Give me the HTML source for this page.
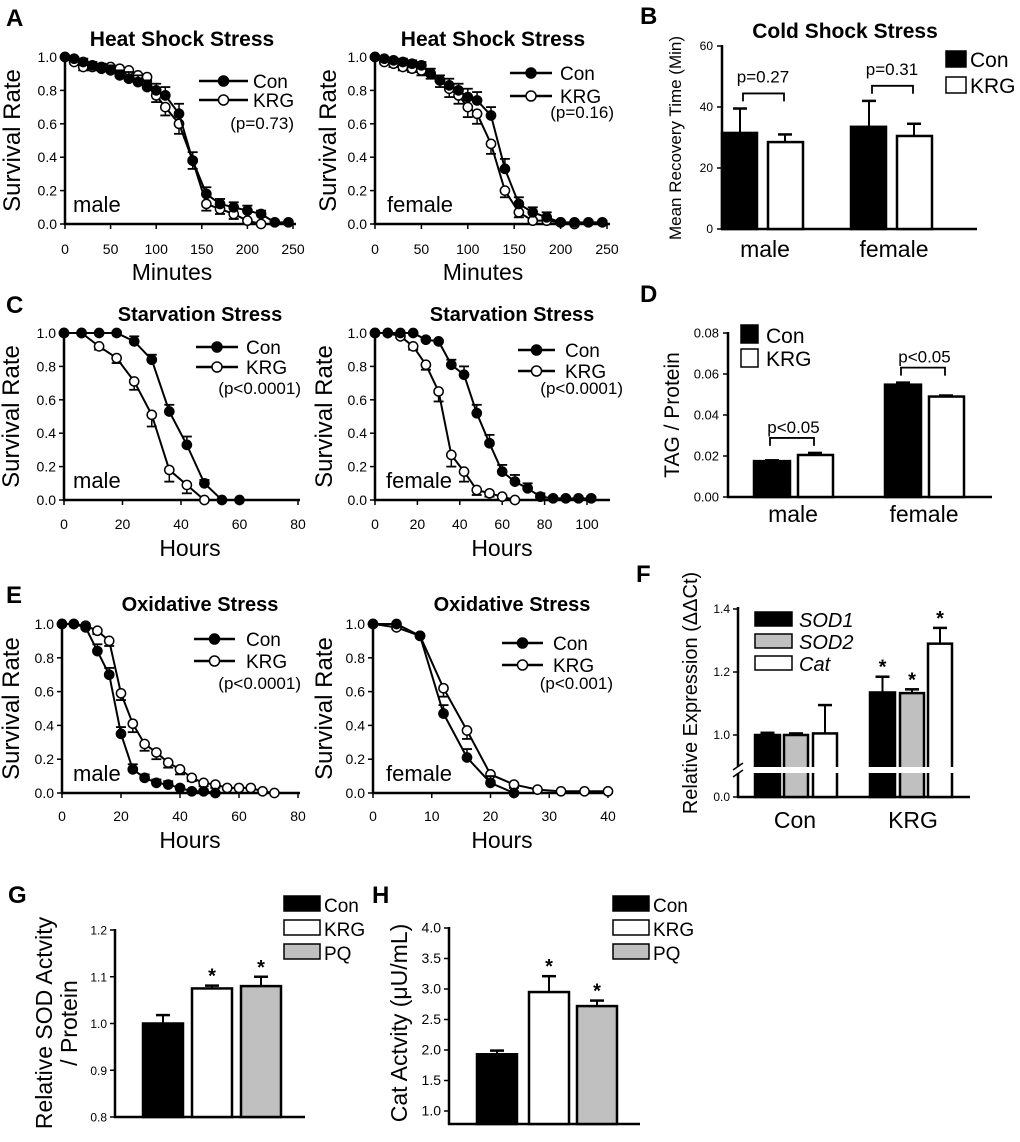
<!DOCTYPE html>
<html><head><meta charset="utf-8">
<style>
html,body{margin:0;padding:0;background:#fff;}
svg{display:block;font-family:"Liberation Sans",Arial,sans-serif;}
</style></head>
<body>
<svg id="fig" width="1020" height="1142" viewBox="0 0 1020 1142" xmlns="http://www.w3.org/2000/svg"></svg>
<script>
// ---------- DATA ----------
const aConT = [0,10,20,30,40,50,60,70,80,90,100,110,125,140,155,170,185,200,215,230,245];
const aKrgT = [0,10,20,30,40,50,60,70,80,90,100,110,125,140,155,170,185,200,215];
const aMaleCon = [1,.99,.97,.95,.93,.92,.89,.87,.85,.82,.80,.77,.66,.38,.18,.12,.10,.08,.06,.01,.01];
const aMaleConErr = [0,.01,.02,.02,.03,.03,.03,.04,.04,.04,.04,.05,.06,.05,.04,.03,.03,.03,.02,.01,.01];
const aMaleKrg = [1,.97,.94,.94,.94,.94,.93,.92,.89,.88,.77,.70,.60,.38,.12,.09,.06,.02,0];
const aMaleKrgErr = [0,.01,.02,.02,.02,.02,.02,.03,.03,.03,.04,.05,.06,.05,.04,.03,.03,.02,0];
const aFemCon = [1,.99,.98,.97,.96,.95,.90,.86,.83,.80,.76,.74,.65,.33,.12,.07,.04,.01,.01,.01,.01];
const aFemConErr = [0,.01,.01,.02,.02,.02,.03,.03,.04,.04,.05,.05,.05,.06,.04,.03,.03,.01,.01,.01,.01];
const aFemKrg = [1,.97,.96,.94,.93,.92,.90,.86,.81,.77,.70,.66,.48,.20,.07,.02,.02,.01,0];
const aFemKrgErr = [0,.01,.02,.02,.02,.03,.03,.04,.05,.05,.06,.06,.06,.04,.03,.02,.02,.01,0];
const cMaleConT = [0,6,12,18,24,30,36,42,48,54,60];
const cMaleCon = [1,1,1,1,.95,.84,.53,.33,.10,0,0];
const cMaleConErr = [0,0,0,.01,.03,.03,.04,.05,.02,0,0];
const cMaleKrgT = [0,6,12,18,24,30,36,42,48];
const cMaleKrg = [1,1,.92,.85,.71,.51,.18,.09,0];
const cMaleKrgErr = [0,0,.02,.03,.05,.07,.07,.05,0];
const cFemConT = [0,6,12,18,24,30,36,42,48,54,60,66,72,78,84,90,96,102];
const cFemCon = [1,1,1,1,.96,.95,.81,.75,.52,.34,.17,.11,.07,.02,.01,.01,.01,.01];
const cFemConErr = [0,0,0,0,.01,.01,.03,.05,.05,.05,.04,.04,.03,.02,.01,.01,.01,.01];
const cFemKrgT = [0,6,12,18,24,30,36,42,48,54,60,66];
const cFemKrg = [1,1,.98,.92,.81,.65,.27,.17,.06,.04,.02,0];
const cFemKrgErr = [0,0,.01,.02,.03,.06,.07,.06,.03,.02,.02,0];
const eMaleConT = [0,4,8,12,16,20,24,28,32,36,40,44,48,52];
const eMaleCon = [1,1,.98,.84,.70,.35,.14,.09,.06,.05,.03,.01,.01,0];
const eMaleConErr = [0,0,.01,.04,.04,.04,.03,.02,.02,.02,.01,.01,.01,0];
const eMaleKrgT = [0,4,8,12,16,20,24,28,32,36,40,44,48,52,56,60,64,68,72];
const eMaleKrg = [1,1,.99,.96,.90,.59,.41,.29,.24,.18,.14,.09,.06,.05,.03,.03,.03,.01,0];
const eMaleKrgErr = [0,0,.01,.02,.03,.04,.05,.04,.04,.03,.03,.02,.02,.02,.01,.01,.01,.01,0];
const eFemConT = [0,4,8,12,16,20,24];
const eFemCon = [1,1,.93,.47,.21,.06,0];
const eFemConErr = [0,0,.01,.05,.05,.04,0];
const eFemKrgT = [0,4,8,12,16,20,24,28,32,36,40];
const eFemKrg = [1,.98,.93,.62,.37,.11,.05,.02,.01,.01,.01];
const eFemKrgErr = [0,.01,.01,.05,.05,.04,.02,.01,.01,.01,.01];
const bGroups = ["male","female"];
const bCon = [31.5,33.5];
const bConErr = [8,8.5];
const bKrg = [28.5,30.5];
const bKrgErr = [2.5,4];
const bTicks = [0,20,40,60];
const bP = ["p=0.27","p=0.31"];
const dGroups = ["male","female"];
const dCon = [0.0175,0.0548];
const dConErr = [0.0004,0.0010];
const dKrg = [0.0205,0.0490];
const dKrgErr = [0.0010,0.0005];
const dTicks = [0,0.02,0.04,0.06,0.08];
const dP = ["p<0.05","p<0.05"];
const fGroups = ["Con","KRG"];
const fSod1 = [1.0,1.135];
const fSod1Err = [0.007,0.05];
const fSod2 = [1.0,1.133];
const fSod2Err = [0.005,0.012];
const fCat = [1.005,1.29];
const fCatErr = [0.09,0.05];
const fTicks = [0.0,1.0,1.2,1.4];
const gCats = ["Con","KRG","PQ"];
const gVals = [1.0,1.075,1.08];
const gErr = [0.018,0.006,0.02];
const gTicks = [0.8,0.9,1.0,1.1,1.2];
const hCats = ["Con","KRG","PQ"];
const hVals = [1.93,2.95,2.72];
const hErr = [0.06,0.26,0.09];
const hTicks = [1.0,1.5,2.0,2.5,3.0,3.5,4.0];

// ---------- HELPERS ----------
const NS = "http://www.w3.org/2000/svg";
const svg = document.getElementById("fig");
function mk(parent, tag, attrs, txt){
  const el = document.createElementNS(NS, tag);
  for (const k in attrs) el.setAttribute(k, attrs[k]);
  if (txt !== undefined) el.textContent = txt;
  parent.appendChild(el);
  return el;
}
function grp(name){
  const g = mk(svg, "g", {});
  
  
  return g;
}
function label(parent, name, x, y, s, size, opts){
  opts = opts || {};
  const t = mk(parent, "text", {x:x, y:y, "font-size":size, "text-anchor":opts.anchor||"start", "font-weight":opts.bold?"bold":"normal", "font-style":opts.italic?"italic":"normal", fill:"#000"}, s);
  if (opts.rot) t.setAttribute("transform", "rotate(-90 " + x + " " + y + ")");
  
  
  return t;
}
function line(parent, name, x1, y1, x2, y2, w){
  const l = mk(parent, "line", {x1:x1, y1:y1, x2:x2, y2:y2, stroke:"#000", "stroke-width":w||1.5});
  
  
  return l;
}

// ---------- SURVIVAL PLOTS ----------
function survival(cfg, conT, con, conErr, krgT, krg, krgErr){
  const g = grp(cfg.name);
  const sx = v => cfg.x0 + (v / cfg.xmax) * (cfg.x1 - cfg.x0);
  const sy = v => cfg.y0 - v * (cfg.y0 - cfg.y1);
  line(g, "y-axis", cfg.x0, cfg.y1 - 2, cfg.x0, cfg.y0 + 1, 2.5);
  line(g, "x-axis", cfg.x0 - 1, cfg.y0, cfg.xEnd, cfg.y0, 2.5);
  [0,0.2,0.4,0.6,0.8,1.0].forEach(v => {
    line(g, "y-tick", cfg.x0 - 5, sy(v), cfg.x0, sy(v), 1.5);
    label(g, "y-tick-label", cfg.x0 - 8, sy(v) + 5, v.toFixed(1), 14, {anchor:"end"});
  });
  cfg.xticks.forEach(v => {
    line(g, "x-tick", sx(v), cfg.y0, sx(v), cfg.y0 + 5, 1.5);
    label(g, "x-tick-label", sx(v), cfg.xtickY, String(v), 14, {anchor:"middle"});
  });
  label(g, "chart-title", cfg.titleX, cfg.titleY, cfg.title, cfg.titleSize, {anchor:"middle", bold:true});
  label(g, "x-axis-title", cfg.titleX - 10, cfg.xTitleY, cfg.xTitle, 23, {anchor:"middle"});
  label(g, "y-axis-title", cfg.yTitleX, (cfg.y0 + cfg.y1) / 2, "Survival Rate", 24, {anchor:"middle", rot:true});
  label(g, "sex-label", cfg.sexX, cfg.y0 - 12, cfg.sex, 22);
  function series(T, V, E, filled, nm){
    const pts = T.map((t, i) => sx(t) + "," + sy(V[i])).join(" ");
    const pl = mk(g, "polyline", {points:pts, fill:"none", stroke:"#000", "stroke-width":2});
    
    
    T.forEach((t, i) => {
      if (E[i] > 0.005) {
        const x = sx(t);
        const up = filled ? 1 : -1;
        const yE = sy(V[i] + up * E[i]);
        line(g, nm + "-error-bar", x, sy(V[i]), x, yE, 1.5);
        line(g, nm + "-error-cap", x - 5, yE, x + 5, yE, 1.8);
      }
    });
    T.forEach((t, i) => {
      const c = mk(g, "circle", {cx:sx(t), cy:sy(V[i]), r:4.6, fill:filled?"#000":"#fff", stroke:"#000", "stroke-width":1.5});
      
      
    });
  }
  series(krgT, krg, krgErr, false, "krg");
  series(conT, con, conErr, true, "con");
  const L = cfg.leg;
  line(g, "legend-con-line", L.x1, L.yc, L.x2, L.yc, 2.5);
  let c1 = mk(g, "circle", {cx:(L.x1 + L.x2) / 2, cy:L.yc, r:5, fill:"#000", stroke:"#000", "stroke-width":1.5});
  
  
  label(g, "legend-con-label", L.tx, L.yc + 7, "Con", 19);
  line(g, "legend-krg-line", L.x1, L.yk, L.x2, L.yk, 2.5);
  let c2 = mk(g, "circle", {cx:(L.x1 + L.x2) / 2, cy:L.yk, r:5, fill:"#fff", stroke:"#000", "stroke-width":1.5});
  
  
  label(g, "legend-krg-label", L.tx, L.yk + 7, "KRG", 19);
  label(g, "p-value", L.px, L.py, cfg.p, 17, {anchor:"end"});
}

survival({name:"panel-a-male", x0:65, x1:293, xEnd:296, xmax:250, y0:224, y1:57, xticks:[0,50,100,150,200,250], xtickY:254,
  title:"Heat Shock Stress", titleSize:21, titleX:182, titleY:46, xTitle:"Minutes", xTitleY:280, yTitleX:20, sex:"male", sexX:73,
  leg:{x1:199, x2:248, yc:81, yk:100, tx:253, px:294, py:129}, p:"(p=0.73)"},
  aConT, aMaleCon, aMaleConErr, aKrgT, aMaleKrg, aMaleKrgErr);
survival({name:"panel-a-female", x0:375, x1:607, xEnd:610, xmax:250, y0:224, y1:57, xticks:[0,50,100,150,200,250], xtickY:254,
  title:"Heat Shock Stress", titleSize:21, titleX:493, titleY:46, xTitle:"Minutes", xTitleY:280, yTitleX:336, sex:"female", sexX:387,
  leg:{x1:510, x2:552, yc:73, yk:96, tx:560, px:614, py:118}, p:"(p=0.16)"},
  aConT, aFemCon, aFemConErr, aKrgT, aFemKrg, aFemKrgErr);
survival({name:"panel-c-male", x0:64, x1:298, xEnd:300, xmax:80, y0:500, y1:333, xticks:[0,20,40,60,80], xtickY:529,
  title:"Starvation Stress", titleSize:20, titleX:200, titleY:321, xTitle:"Hours", xTitleY:556, yTitleX:19, sex:"male", sexX:73,
  leg:{x1:196, x2:238, yc:347, yk:367, tx:246, px:301, py:394}, p:"(p<0.0001)"},
  cMaleConT, cMaleCon, cMaleConErr, cMaleKrgT, cMaleKrg, cMaleKrgErr);
survival({name:"panel-c-female", x0:375, x1:587, xEnd:610, xmax:100, y0:500, y1:333, xticks:[0,20,40,60,80,100], xtickY:529,
  title:"Starvation Stress", titleSize:20, titleX:512, titleY:321, xTitle:"Hours", xTitleY:556, yTitleX:332, sex:"female", sexX:386,
  leg:{x1:518, x2:555, yc:350, yk:371, tx:565, px:623, py:394}, p:"(p<0.0001)"},
  cFemConT, cFemCon, cFemConErr, cFemKrgT, cFemKrg, cFemKrgErr);
survival({name:"panel-e-male", x0:62, x1:298, xEnd:300, xmax:80, y0:793, y1:624, xticks:[0,20,40,60,80], xtickY:821,
  title:"Oxidative Stress", titleSize:20, titleX:200, titleY:611, xTitle:"Hours", xTitleY:848, yTitleX:19, sex:"male", sexX:73,
  leg:{x1:194, x2:235, yc:639, yk:661, tx:246, px:301, py:689}, p:"(p<0.0001)"},
  eMaleConT, eMaleCon, eMaleConErr, eMaleKrgT, eMaleKrg, eMaleKrgErr);
survival({name:"panel-e-female", x0:373, x1:608, xEnd:611, xmax:40, y0:793, y1:624, xticks:[0,10,20,30,40], xtickY:821,
  title:"Oxidative Stress", titleSize:20, titleX:512, titleY:611, xTitle:"Hours", xTitleY:848, yTitleX:332, sex:"female", sexX:386,
  leg:{x1:502, x2:543, yc:643, yk:665, tx:553, px:613, py:689}, p:"(p<0.001)"},
  eFemConT, eFemCon, eFemConErr, eFemKrgT, eFemKrg, eFemKrgErr);

// ---------- BAR HELPERS ----------
function bar(g, name, x, w, yTop, yBase, fill){
  const r = mk(g, "rect", {x:x, y:yTop, width:w, height:Math.max(0, yBase - yTop), fill:fill, stroke:"#000", "stroke-width":2.5});
  
  
  return r;
}
function errUp(g, name, xc, y1, y2){
  line(g, name, xc, y1, xc, y2, 2);
  line(g, name + "-cap", xc - 7, y2, xc + 7, y2, 2.5);
}
function legBox(g, name, x, y, w, h, fill){
  const r = mk(g, "rect", {x:x, y:y, width:w, height:h, fill:fill, stroke:"#000", "stroke-width":1.5});
  
  
}

// B
(function(){
  const g = grp("panel-b-cold-shock");
  const ax = 722, y0 = 229, y1 = 46;
  const sy = v => y0 - v / 60 * (y0 - y1);
  line(g, "y-axis", ax, y1 - 1, ax, y0 + 1, 2.5);
  line(g, "x-axis", ax - 1, y0, 977, y0, 2.5);
  bTicks.forEach(v => { line(g, "y-tick", ax - 5, sy(v), ax, sy(v), 1.5); label(g, "y-tick-label", ax - 9, sy(v) + 4, String(v), 12, {anchor:"end"}); });
  const cx = [762, 891], off = 22, bw = 35;
  bGroups.forEach((gr, i) => {
    const xc = cx[i] - off, xk = cx[i] + off;
    errUp(g, "con-error-bar", xc, sy(bCon[i]), sy(bCon[i] + bConErr[i]));
    errUp(g, "krg-error-bar", xk + 1, sy(bKrg[i]), sy(bKrg[i] + bKrgErr[i]));
    bar(g, "bar-con-" + gr, xc - 18, bw, sy(bCon[i]), y0, "#000");
    bar(g, "bar-krg-" + gr, xk - 16, bw, sy(bKrg[i]), y0, "#fff");
    label(g, "group-label", cx[i] + 3, 257, gr, 23, {anchor:"middle"});
    const top = Math.max(bCon[i] + bConErr[i], bKrg[i] + bKrgErr[i]) + 2;
    const by = sy(top) - 9;
    const pb = mk(g, "polyline", {points:(xc+3)+","+(by+8)+" "+(xc+3)+","+by+" "+(xk)+","+by+" "+(xk)+","+(by+8), fill:"none", stroke:"#000", "stroke-width":1.8});
    
    
    label(g, "p-value", (xc + xk) / 2 + 1, by - 11, bP[i], 17, {anchor:"middle"});
  });
  label(g, "chart-title", 845, 38, "Cold Shock Stress", 21, {anchor:"middle", bold:true});
  label(g, "y-axis-title", 681, 138, "Mean Recovery Time (Min)", 17, {anchor:"middle", rot:true});
  legBox(g, "legend-con-swatch", 946, 51, 20, 16, "#000");
  label(g, "legend-con-label", 970, 67, "Con", 21);
  legBox(g, "legend-krg-swatch", 946, 77, 20, 16, "#fff");
  label(g, "legend-krg-label", 970, 93, "KRG", 21);
  label(g, "panel-label-b", 640, 24, "B", 24, {bold:true});
})();

// D
(function(){
  const g = grp("panel-d-tag");
  const ax = 728, y0 = 497, y1 = 333;
  const sy = v => y0 - v / 0.08 * (y0 - y1);
  line(g, "y-axis", ax, y1 - 1, ax, y0 + 1, 2.5);
  line(g, "x-axis", ax - 1, y0, 992, y0, 2.5);
  dTicks.forEach(v => { line(g, "y-tick", ax - 5, sy(v), ax, sy(v), 1.5); label(g, "y-tick-label", ax - 9, sy(v) + 4.5, v.toFixed(2), 13, {anchor:"end"}); });
  const cx = [793, 924];
  dGroups.forEach((gr, i) => {
    const xc = cx[i] - 21, xk = cx[i] + 22;
    errUp(g, "con-error-bar", xc, sy(dCon[i]), sy(dCon[i] + dConErr[i]));
    errUp(g, "krg-error-bar", xk, sy(dKrg[i]), sy(dKrg[i] + dKrgErr[i]));
    bar(g, "bar-con-" + gr, xc - 18, 36, sy(dCon[i]), y0, "#000");
    bar(g, "bar-krg-" + gr, xk - 17, 35, sy(dKrg[i]), y0, "#fff");
    label(g, "group-label", cx[i], 522, gr, 23, {anchor:"middle"});
    const top = Math.max(dCon[i] + dConErr[i], dKrg[i] + dKrgErr[i]);
    const by = sy(top) - 15;
    const pb = mk(g, "polyline", {points:(xc-2)+","+(by+8)+" "+(xc-2)+","+by+" "+(xk-1)+","+by+" "+(xk-1)+","+(by+8), fill:"none", stroke:"#000", "stroke-width":1.8});
    
    
    label(g, "p-value", (xc + xk) / 2, by - 5, dP[i], 17, {anchor:"middle"});
  });
  label(g, "y-axis-title", 679, 415, "TAG / Protein", 21, {anchor:"middle", rot:true});
  legBox(g, "legend-con-swatch", 741, 325, 17, 18, "#000");
  label(g, "legend-con-label", 766, 343, "Con", 21);
  legBox(g, "legend-krg-swatch", 741, 349, 17, 18, "#fff");
  label(g, "legend-krg-label", 766, 366, "KRG", 21);
  label(g, "panel-label-d", 640, 302, "D", 24, {bold:true});
})();

// F (broken axis)
(function(){
  const g = grp("panel-f-expression");
  const ax = 738, y0 = 797;
  const sy = v => v < 0.5 ? y0 - v * 100 : 735 - (v - 1) * 315;
  line(g, "y-axis", ax, 607, ax, y0 + 1, 2.5);
  line(g, "x-axis", ax - 1, y0, 970, y0, 2.5);
  fTicks.forEach(v => { line(g, "y-tick", ax - 5, sy(v), ax, sy(v), 1.5); label(g, "y-tick-label", ax - 8, sy(v) + 4, v.toFixed(1), 12, {anchor:"end"}); });
  const starts = [[755,784,813],[870,900,928]];
  const ws = [25,24,24];
  const fills = ["#000","#c0c0c0","#fff"];
  const names = ["sod1","sod2","cat"];
  fGroups.forEach((gr, i) => {
    const vals = [fSod1[i], fSod2[i], fCat[i]];
    const errs = [fSod1Err[i], fSod2Err[i], fCatErr[i]];
    vals.forEach((v, j) => {
      const x = starts[i][j], w = ws[j];
      errUp(g, names[j] + "-error-bar", x + w / 2, sy(v), sy(v + errs[j]));
      bar(g, "bar-" + names[j] + "-" + gr.toLowerCase(), x, w, sy(v), y0, fills[j]);
      if (gr === "KRG") label(g, "significance-star", x + w / 2, sy(v + errs[j]) - 3, "*", 20, {anchor:"middle", bold:true});
    });
    label(g, "group-label", [795, 913][i], 828, gr, 23, {anchor:"middle"});
  });
  const br = mk(g, "rect", {x:ax + 3, y:767, width:235, height:6, fill:"#fff"});
  
  
  const bg = mk(g, "rect", {x:ax - 2, y:767, width:4, height:6, fill:"#fff"});
  
  
  line(g, "axis-break-mark", ax - 5, 770, ax + 5, 763, 1.5);
  line(g, "axis-break-mark", ax - 5, 777, ax + 5, 770, 1.5);
  label(g, "y-axis-title", 697, 693, "Relative Expression (\u0394\u0394Ct)", 20, {anchor:"middle", rot:true});
  legBox(g, "legend-sod1-swatch", 755, 612, 37, 14, "#000");
  label(g, "legend-sod1-label", 799, 627, "SOD1", 20, {italic:true});
  legBox(g, "legend-sod2-swatch", 755, 634, 37, 14, "#c0c0c0");
  label(g, "legend-sod2-label", 799, 649, "SOD2", 20, {italic:true});
  legBox(g, "legend-cat-swatch", 755, 656, 37, 14, "#fff");
  label(g, "legend-cat-label", 799, 671, "Cat", 20, {italic:true});
  label(g, "panel-label-f", 636, 582, "F", 24, {bold:true});
})();

// G & H
function activity(cfg, cats, vals, errs, ticks){
  const g = grp(cfg.name);
  const sy = v => cfg.y0 - (v - cfg.vmin) / (cfg.vmax - cfg.vmin) * (cfg.y0 - cfg.y1);
  line(g, "y-axis", cfg.ax, cfg.y1 - 1, cfg.ax, cfg.xAxisY + 1, 2.5);
  line(g, "x-axis", cfg.ax - 1, cfg.xAxisY, cfg.xEnd, cfg.xAxisY, 2.5);
  ticks.forEach(v => { line(g, "y-tick", cfg.ax - 5, sy(v), cfg.ax, sy(v), 1.5); label(g, "y-tick-label", cfg.ax - 8, sy(v) + 4.5, v.toFixed(1), cfg.tickSize, {anchor:"end"}); });
  const fills = ["#000","#fff","#c0c0c0"];
  cats.forEach((c, i) => {
    const x = cfg.bx[i], w = cfg.bw;
    errUp(g, c.toLowerCase() + "-error-bar", x + w / 2, sy(vals[i]), sy(vals[i] + errs[i]));
    bar(g, "bar-" + c.toLowerCase(), x, w, sy(vals[i]), cfg.xAxisY, fills[i]);
    if (i > 0) label(g, "significance-star", x + w / 2, sy(vals[i] + errs[i]) - 3, "*", 20, {anchor:"middle", bold:true});
  });
  cats.forEach((c, i) => {
    legBox(g, "legend-" + c.toLowerCase() + "-swatch", cfg.lx, [896, 920, 944][i], 36, 15, fills[i]);
    label(g, "legend-" + c.toLowerCase() + "-label", cfg.lx + 40, [912, 936, 960][i], c, 19);
  });
  label(g, "panel-label", cfg.px, 903, cfg.letter, 24, {bold:true});
  return g;
}
const gG = activity({name:"panel-g-sod-activity", ax:115, y0:1117, y1:930, vmin:0.8, vmax:1.2, xAxisY:1117, xEnd:305, tickSize:12,
  bx:[143,192,241], bw:40, lx:284, px:8, letter:"G"}, gCats, gVals, gErr, gTicks);
label(gG, "y-axis-title-line1", 52, 1023, "Relative SOD Actvity", 23, {anchor:"middle", rot:true});
label(gG, "y-axis-title-line2", 77, 1023, "/ Protein", 23, {anchor:"middle", rot:true});
const gH = activity({name:"panel-h-cat-activity", ax:449, y0:1111, y1:928, vmin:1.0, vmax:4.0, xAxisY:1124, xEnd:640, tickSize:14,
  bx:[477,529,577], bw:40, lx:613, px:372, letter:"H"}, hCats, hVals, hErr, hTicks);
label(gH, "y-axis-title", 407, 1023, "Cat Actvity (\u03bcU/mL)", 23, {anchor:"middle", rot:true});

const pl = grp("panel-letters");
label(pl, "panel-label-a", 6, 26, "A", 24, {bold:true});
label(pl, "panel-label-c", 6, 313, "C", 24, {bold:true});
label(pl, "panel-label-e", 6, 603, "E", 24, {bold:true});
</script>
</body></html>
